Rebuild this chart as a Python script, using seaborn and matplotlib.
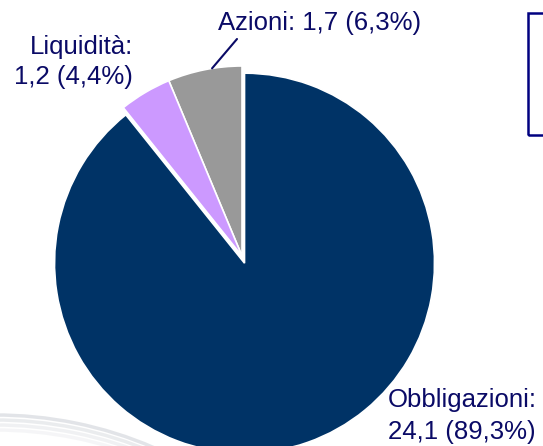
import numpy as np
import matplotlib
matplotlib.use("Agg")
import matplotlib.pyplot as plt
import seaborn as sns
from matplotlib.patches import Rectangle, Arc

# Data (mld di euro)
categories = ["Azioni", "Liquidità", "Obbligazioni"]
values = [1.7, 1.2, 24.1]
shares = [6.3, 4.4, 89.3]
slice_colors = ["#999999", "#CC99FF", "#003366"]

sns.set_theme(style="white")
plt.rcParams['font.family'] = ['Liberation Sans', 'DejaVu Sans']

text_color = "#0A0A66"

fig = plt.figure(figsize=(5.43, 4.46), dpi=100)
ax = fig.add_axes([0, 0, 1, 1])

# pie centre at (242, 256) px, radius 190 px
r_px = 190.0
cx, cy = 242.0, 256.0
W, H = 543.0, 446.0


def px(x, y):
    # pixel position (from top-left) -> data coords
    return (x - cx) / r_px, (cy - y) / r_px


wedges, _ = ax.pie(values, colors=sns.color_palette(slice_colors), startangle=90,
                   counterclock=True, explode=[0, 0, 0.04], radius=1,
                   wedgeprops=dict(edgecolor="white", linewidth=1.2))

ax.set_aspect("equal")
ax.set_xlim(-cx / r_px, (W - cx) / r_px)
ax.set_ylim(-(H - cy) / r_px, cy / r_px)
ax.axis("off")


def fmt(v):
    return f"{v:.1f}".replace(".", ",")


labels = [f"{c}:\n{fmt(v)} ({fmt(s)}%)" for c, v, s in zip(categories, values, shares)]

# Azioni: one line with leader line
w = wedges[0]
ang = np.deg2rad(w.theta1 + 0.4 * (w.theta2 - w.theta1))
ax.annotate("", xy=(np.cos(ang), np.sin(ang)), xytext=px(237, 39),
            arrowprops=dict(arrowstyle="-", color=text_color, lw=1.5,
                            shrinkA=0, shrinkB=0))
ax.text(*px(218, 23), labels[0].replace("\n", " "), ha="left", va="center",
        fontsize=18.5, color=text_color)

# Liquidità
ax.text(*px(133, 62), labels[1], ha="right", va="center",
        fontsize=18.5, color=text_color, linespacing=1.3)

# Obbligazioni
ax.text(*px(388, 416), labels[2], ha="left", va="center",
        fontsize=18.5, color=text_color, linespacing=1.4)

# faint background swoosh, bottom left
for i, a in enumerate([0.35, 0.25, 0.18, 0.12]):
    fig.add_artist(Arc((-4.3 / W, (-369 - i * 5) / H), 800 / W, 800 / H,
                       theta1=60, theta2=100, transform=fig.transFigure,
                       color="#AEB4BE", lw=2.5, alpha=a, zorder=0))

# legend frame cut at the right border
fig.add_artist(Rectangle((528 / W, 1 - 135 / H), 0.1, (135 - 13) / H,
                         transform=fig.transFigure, fill=False,
                         edgecolor="#000080", lw=1.8))

fig.savefig("out.png", dpi=100)
